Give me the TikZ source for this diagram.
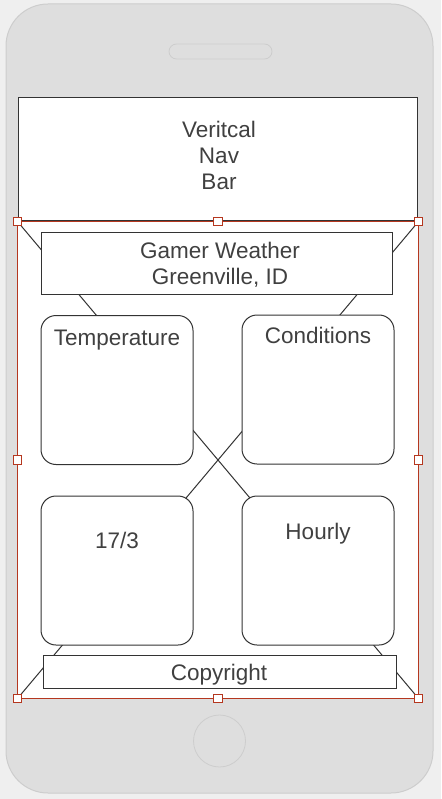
\documentclass[tikz,border=0pt]{standalone}
\usepackage{fontspec}
\setmainfont{Liberation Sans}
\definecolor{bgc}{HTML}{EFEFEF}
\definecolor{bodyc}{HTML}{DEDEDE}
\definecolor{edgec}{HTML}{CDCDCD}
\definecolor{inkc}{HTML}{333333}
\definecolor{txtc}{HTML}{404040}
\definecolor{selc}{HTML}{B5371F}
\begin{document}
\begin{tikzpicture}[x=1pt,y=-1pt,
  box/.style={draw=inkc, fill=white, line width=1pt, inner sep=0pt, rectangle},
  tile/.style={box, rounded corners=15pt, minimum width=152pt, minimum height=149pt},
  lbl/.style={text=txtc, font=\fontsize{22.5}{26}\selectfont, inner sep=0pt, anchor=base, align=center},
  handle/.style={draw=selc, fill=white, line width=1pt, minimum size=8.5pt, inner sep=0pt, rectangle},
  xline/.style={draw=inkc, line width=1pt},
]
\fill[bgc] (0,0) rectangle (441,799);
\useasboundingbox (0,0) rectangle (441,799);
% phone body
\draw[edgec, fill=bodyc, rounded corners=42pt, line width=1pt] (6,4) rectangle (433,793);
\draw[edgec, fill=bodyc, rounded corners=7.5pt, line width=0.8pt] (169,44) rectangle (272,59);
\draw[edgec, line width=0.8pt] (219.5,741) circle (26pt);
% nav bar
\node[box, minimum width=399pt, minimum height=123pt] (nav) at (217.5,159.5) {};
% screen frame
\node[fill=white, inner sep=0pt, minimum width=400.6pt, minimum height=476.6pt] (scr) at (218,460) {};
\draw[xline] (scr.north west) -- (scr.south east);
\draw[xline] (scr.north east) -- (scr.south west);
% boxes
\node[box, minimum width=351pt, minimum height=61pt] (head) at (216.5,263.5) {};
\node[tile] (temp) at (117,390) {};
\node[tile] (cond) at (318,389.5) {};
\node[tile] (date) at (117,570.5) {};
\node[tile] (hour) at (318,570.5) {};
\node[box, minimum width=353pt, minimum height=33pt] (copy) at (219.5,671.5) {};
% labels (base anchor = last line's baseline)
\node[lbl] (navt) at (219,190) {Veritcal\\Nav\\Bar};
\node[lbl] (headt) at (220,284) {Gamer Weather\\Greenville, ID};
\node[lbl] (tempt) at (117,345) {Temperature};
\node[lbl] (condt) at (318,343) {Conditions};
\node[lbl] (datet) at (117,548) {17/3};
\node[lbl] (hourt) at (318,539) {Hourly};
\node[lbl] (copyt) at (219,680) {Copyright};
% selection frame
\draw[selc, line width=1.5pt] (scr.north west) rectangle (scr.south east);
\foreach \a/\n in {north west/h1, north/h2, north east/h3, west/h4, east/h5, south west/h6, south/h7, south east/h8}
  \node[handle] (\n) at (scr.\a) {};
\end{tikzpicture}
\end{document}
